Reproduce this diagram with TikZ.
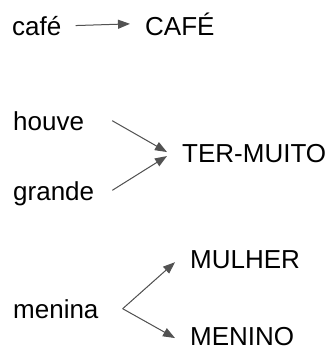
\documentclass[tikz,border=0pt]{standalone}
\usepackage{fontspec}
\setmainfont{Liberation Sans}
\usetikzlibrary{arrows.meta,positioning}

\begin{document}
\begin{tikzpicture}[x=1pt,y=-1pt,
    word/.style={anchor=base west,inner sep=0pt,font=\fontsize{26}{30}\selectfont},
    link/.style={-{Triangle[length=12pt,width=9pt]},draw=black!68,fill=black!68,line width=1pt}]
  \useasboundingbox (0,0) rectangle (330,349);
  % words
  \node[word] (cafe)   at (12,35)   {café};
  \node[word] (CAFE)   at (145,35)  {CAFÉ};
  \node[word] (houve)  at (13,130)  {houve};
  \node[word] (grande) at (13,200)  {grande};
  \node[word] (ter)    at (182,162) {TER-MUITO};
  \node[word] (menina) at (13,318)  {menina};
  \node[word] (mulher) at (190,268) {MULHER};
  \node[word] (menino) at (190,345) {MENINO};
  \coordinate (fork) at ([xshift=24pt]menina.east);
  % arrows
  \draw[link] ([xshift=14pt]cafe.east) -- ([xshift=-15pt]CAFE.west);
  \draw[link] ([xshift=28pt]houve.east) -- ([xshift=-15pt,yshift=1pt]ter.west);
  \draw[link] ([xshift=18pt,yshift=3pt]grande.east) -- ([xshift=-15pt,yshift=-3pt]ter.west);
  \draw[link] (fork) -- ([xshift=-15pt,yshift=-3pt]mulher.west);
  \draw[link] (fork) -- ([xshift=-15pt,yshift=-2pt]menino.west);
\end{tikzpicture}
\end{document}
